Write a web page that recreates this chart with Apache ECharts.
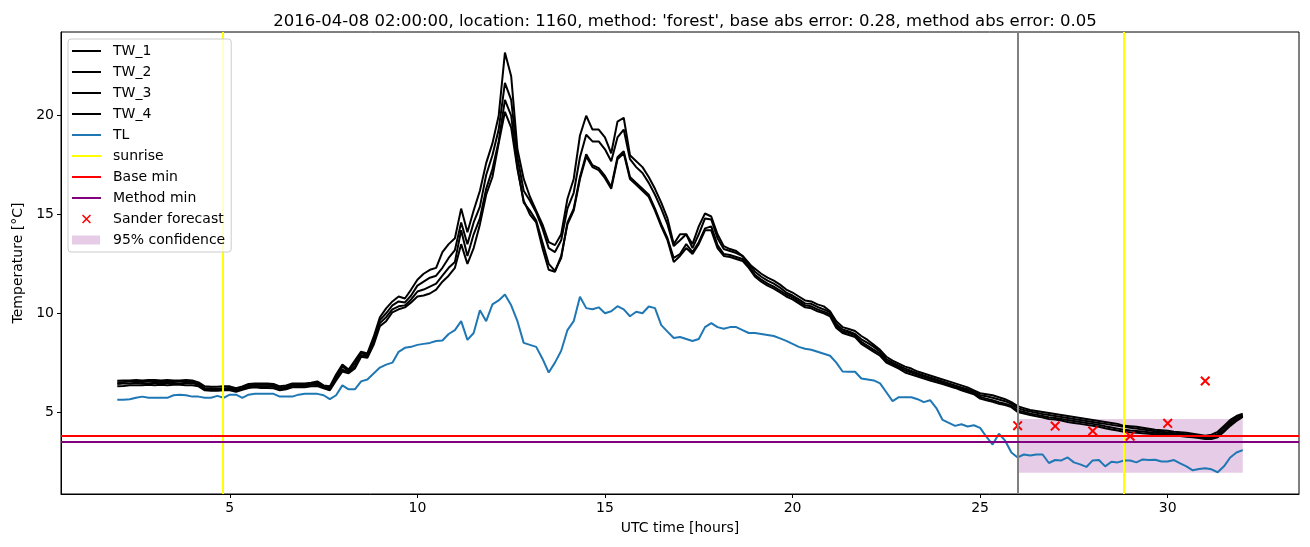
<!DOCTYPE html>
<html>
<head>
<meta charset="utf-8">
<script src="https://cdn.jsdelivr.net/npm/echarts@6/dist/echarts.min.js"></script>
<style>
  html, body { margin: 0; padding: 0; background: #fff; }
  #chart { width: 1310px; height: 547px; }
</style>
</head>
<body>
<div id="chart"></div>
<script>
// ---- data (10-minute grid from 02:00 to 32:00 UTC hours) ----
const hours = Array.from({ length: 181 }, (_, i) => 2 + i / 6);

const tw1 = [
  6.58,6.6,6.6,6.62,6.6,6.62,
  6.62,6.6,6.62,6.6,6.6,6.62,
  6.6,6.5,6.3,6.28,6.28,6.3,
  6.3,6.2,6.3,6.42,6.45,6.45,
  6.45,6.42,6.3,6.35,6.45,6.45,
  6.45,6.48,6.55,6.35,6.3,6.9,
  7.4,7.15,7.6,8.06,7.97,8.8,
  9.8,10.25,10.6,10.85,10.75,11.2,
  11.7,12.0,12.2,12.3,13.1,13.5,
  13.8,15.3,14.1,15.2,16.2,17.6,
  18.6,20.0,23.2,22.0,18.3,16.8,
  15.9,15.2,14.5,13.6,13.45,14.0,
  15.8,16.8,19.0,20.0,19.3,19.3,
  18.9,18.1,19.7,19.9,18.0,17.7,
  17.4,16.9,16.3,15.6,14.8,13.5,
  14.0,14.0,13.5,14.4,15.05,14.9,
  14.0,13.4,13.25,13.15,12.9,12.5,
  12.25,12.0,11.8,11.65,11.45,11.2,
  11.05,10.85,10.65,10.6,10.45,10.35,
  10.1,9.6,9.3,9.2,9.1,8.85,
  8.65,8.4,8.15,7.8,7.6,7.45,
  7.3,7.2,7.05,6.95,6.85,6.75,
  6.65,6.55,6.45,6.35,6.25,6.1,
  5.95,5.9,5.85,5.75,5.65,5.5,
  5.3,5.2,5.1,5.05,5.0,4.95,
  4.9,4.85,4.8,4.75,4.7,4.65,
  4.6,4.55,4.5,4.45,4.4,4.3,
  4.28,4.25,4.2,4.15,4.1,4.08,
  4.05,4.0,3.98,3.95,3.9,3.85,
  3.8,3.85,4.0,4.3,4.6,4.8,
  4.92
];

const tw2 = [
  6.5,6.52,6.55,6.55,6.52,6.55,
  6.55,6.52,6.55,6.52,6.55,6.55,
  6.52,6.42,6.2,6.2,6.18,6.2,
  6.22,6.12,6.22,6.35,6.38,6.38,
  6.38,6.35,6.22,6.28,6.38,6.38,
  6.38,6.42,6.48,6.3,6.22,6.8,
  7.3,7.08,7.45,7.98,7.9,8.6,
  9.65,10.0,10.4,10.6,10.55,10.9,
  11.4,11.6,11.8,11.9,12.3,12.8,
  13.2,14.6,13.5,14.6,15.4,17.0,
  18.0,19.3,21.66,20.8,17.9,16.2,
  15.7,15.1,14.3,13.3,13.1,13.7,
  15.3,16.1,17.9,19.04,18.7,18.7,
  18.3,17.7,18.9,19.3,17.8,17.4,
  17.1,16.6,16.0,15.3,14.5,13.4,
  13.7,14.0,13.3,14.0,14.8,14.75,
  13.8,13.25,13.15,13.05,12.9,12.55,
  12.1,11.85,11.65,11.5,11.3,11.05,
  10.9,10.7,10.5,10.48,10.32,10.2,
  10.05,9.45,9.18,9.08,8.95,8.68,
  8.5,8.3,8.05,7.68,7.5,7.35,
  7.2,7.08,6.95,6.85,6.75,6.65,
  6.55,6.45,6.35,6.25,6.15,6.02,
  5.85,5.8,5.72,5.63,5.55,5.42,
  5.2,5.1,5.02,4.96,4.9,4.85,
  4.8,4.75,4.7,4.65,4.6,4.55,
  4.5,4.45,4.4,4.35,4.3,4.25,
  4.2,4.16,4.12,4.08,4.03,4.0,
  3.96,3.92,3.9,3.88,3.83,3.78,
  3.73,3.75,3.88,4.2,4.5,4.72,
  4.85
];

const tw3 = [
  6.42,6.45,6.45,6.48,6.45,6.45,
  6.48,6.45,6.48,6.45,6.45,6.48,
  6.45,6.38,6.15,6.15,6.12,6.15,
  6.15,6.08,6.18,6.28,6.32,6.3,
  6.3,6.28,6.15,6.22,6.32,6.32,
  6.32,6.38,6.4,6.25,6.15,6.7,
  7.15,7.02,7.3,7.88,7.82,8.5,
  9.5,9.8,10.2,10.35,10.4,10.7,
  11.1,11.2,11.35,11.5,11.9,12.3,
  12.6,14.2,12.9,14.0,14.8,16.3,
  17.3,18.7,20.8,20.0,17.4,15.6,
  15.2,14.7,13.6,12.5,12.15,12.8,
  14.6,15.3,16.9,18.05,17.5,17.35,
  16.95,16.4,17.9,18.2,16.9,16.6,
  16.3,16.0,15.3,14.5,13.8,12.8,
  13.0,13.5,13.1,13.6,14.3,14.4,
  13.45,13.0,12.95,12.85,12.75,12.4,
  11.95,11.7,11.5,11.35,11.15,10.95,
  10.8,10.6,10.4,10.35,10.2,10.08,
  9.95,9.35,9.08,9.0,8.88,8.55,
  8.35,8.15,7.95,7.58,7.42,7.28,
  7.1,7.0,6.88,6.78,6.68,6.58,
  6.48,6.38,6.28,6.18,6.08,5.96,
  5.76,5.68,5.6,5.5,5.42,5.32,
  5.08,5.0,4.92,4.86,4.8,4.74,
  4.7,4.65,4.6,4.55,4.5,4.45,
  4.4,4.35,4.28,4.22,4.16,4.1,
  4.06,4.04,4.01,3.98,3.95,3.92,
  3.89,3.86,3.84,3.81,3.77,3.72,
  3.67,3.68,3.8,4.08,4.4,4.62,
  4.8
];

const tw4 = [
  6.3,6.32,6.35,6.35,6.35,6.38,
  6.35,6.38,6.35,6.38,6.38,6.35,
  6.35,6.3,6.1,6.08,6.08,6.1,
  6.1,6.03,6.12,6.22,6.25,6.22,
  6.22,6.2,6.1,6.15,6.25,6.25,
  6.25,6.3,6.32,6.2,6.1,6.6,
  7.05,6.96,7.2,7.8,7.75,8.4,
  9.35,9.6,10.05,10.2,10.3,10.55,
  10.85,10.9,11.0,11.2,11.6,11.9,
  12.3,13.5,12.5,13.3,14.5,16.0,
  16.9,18.6,20.2,19.4,17.3,15.7,
  15.0,14.6,13.3,12.2,12.1,12.9,
  14.5,15.2,16.8,17.94,17.4,17.25,
  16.84,16.3,17.8,18.1,16.8,16.5,
  16.2,15.9,15.2,14.4,13.7,12.6,
  12.9,13.3,13.0,13.5,14.2,14.2,
  13.3,12.9,12.85,12.75,12.65,12.3,
  11.85,11.6,11.4,11.25,11.05,10.85,
  10.7,10.5,10.3,10.25,10.1,10.0,
  9.85,9.25,9.0,8.9,8.8,8.45,
  8.25,8.05,7.85,7.5,7.35,7.2,
  7.0,6.9,6.8,6.7,6.6,6.5,
  6.42,6.32,6.22,6.1,6.0,5.9,
  5.68,5.6,5.52,5.42,5.35,5.25,
  5.0,4.92,4.85,4.78,4.72,4.65,
  4.62,4.57,4.5,4.45,4.4,4.35,
  4.3,4.25,4.18,4.12,4.06,4.0,
  3.97,3.95,3.92,3.9,3.88,3.85,
  3.83,3.8,3.78,3.75,3.72,3.68,
  3.63,3.63,3.72,4.0,4.3,4.55,
  4.75
];

const tl = [
  5.62,5.62,5.65,5.72,5.78,5.72,
  5.72,5.72,5.72,5.85,5.88,5.85,
  5.78,5.78,5.72,5.72,5.82,5.72,
  5.88,5.88,5.72,5.88,5.92,5.92,
  5.92,5.92,5.78,5.78,5.78,5.88,
  5.92,5.92,5.92,5.85,5.65,5.85,
  6.35,6.15,6.15,6.55,6.65,6.95,
  7.25,7.4,7.5,8.05,8.25,8.3,
  8.4,8.45,8.5,8.6,8.62,8.95,
  9.15,9.6,8.65,9.0,10.15,9.6,
  10.45,10.65,10.95,10.4,9.6,8.5,
  8.4,8.3,7.7,7.0,7.5,8.1,
  9.15,9.6,10.84,10.26,10.2,10.3,
  10.0,10.1,10.36,10.2,9.85,10.08,
  10.0,10.34,10.26,9.4,9.07,8.75,
  8.8,8.7,8.6,8.7,9.3,9.5,
  9.3,9.22,9.3,9.3,9.15,9.0,
  9.0,8.95,8.9,8.85,8.73,8.6,
  8.45,8.3,8.2,8.15,8.05,7.95,
  7.85,7.5,7.05,7.04,7.04,6.7,
  6.65,6.6,6.45,6.0,5.55,5.75,
  5.75,5.75,5.65,5.5,5.6,5.2,
  4.6,4.45,4.3,4.38,4.27,4.33,
  4.2,3.75,3.35,3.9,3.55,2.95,
  2.7,2.85,2.8,2.85,2.85,2.42,
  2.57,2.55,2.7,2.45,2.35,2.22,
  2.55,2.57,2.25,2.48,2.45,2.55,
  2.55,2.45,2.6,2.57,2.58,2.5,
  2.5,2.57,2.4,2.25,2.05,2.12,
  2.15,2.1,1.95,2.25,2.7,2.95,
  3.07
];

const sanderHours = [26, 27, 28, 29, 30, 31];
const sanderValues = [4.31, 4.29, 4.04, 3.78, 4.43, 6.57];
const sunriseHours = [4.8, 28.82];
const forecastStartHour = 26;
const baseMin = 3.79;
const methodMin = 3.49;
const bandHours = [26, 32];
const bandRange = [1.93, 4.65];
const xTicks = [5, 10, 15, 20, 25, 30];
const yTicks = [5, 10, 15, 20];
const titleText = "2016-04-08 02:00:00, location: 1160, method: 'forest', base abs error: 0.28, method abs error: 0.05";

// ---- chart ----
const FONT = 'DejaVu Sans';
const anchors = 'M0,0 L0.01,0 L0,0.01 Z M36,10 L35.99,10 L36,9.99 Z ';
const lineIcon = 'path://' + anchors + 'M0,4 L29,4 L29,6 L0,6 Z';
const xIcon = 'path://' + anchors + 'M10,1.6 L11.1,0.5 L19,8.4 L17.9,9.5 Z M17.9,0.5 L19,1.6 L11.1,9.5 L10,8.4 Z';
const bandIcon = 'path://' + anchors + 'M0,0.5 L28,0.5 L28,9.5 L0,9.5 Z';
const xSymbol = 'path://M0,1.4 L1.4,0 L10,8.6 L8.6,10 Z M8.6,0 L10,1.4 L1.4,10 L0,8.6 Z';

function lineSeries(name, values, color) {
  return {
    name, type: 'line', data: hours.map((h, i) => [h, values[i]]),
    showSymbol: false, symbol: 'none', smooth: false,
    lineStyle: { color, width: 2 }, itemStyle: { color },
    emphasis: { disabled: true }, z: 2
  };
}
function markLineSeries(name, color, lines, z) {
  return {
    name, type: 'line', data: [], symbol: 'none',
    itemStyle: { color }, lineStyle: { color, width: 2 }, z: z || 3,
    markLine: {
      silent: true, symbol: ['none', 'none'], label: { show: false },
      lineStyle: { color, width: 2, type: 'solid' },
      emphasis: { disabled: true },
      data: lines
    }
  };
}

const chart = echarts.init(document.getElementById('chart'), null, { renderer: 'canvas' });
chart.setOption({
  animation: false,
  backgroundColor: '#ffffff',
  textStyle: { fontFamily: FONT },
  title: {
    text: titleText, left: 680, textAlign: 'center', top: 8,
    textStyle: { fontFamily: FONT, fontSize: 16.5, fontWeight: 'normal', color: '#000' }
  },
  grid: { left: 61, right: 11, top: 32, bottom: 53, show: true, borderColor: '#000', borderWidth: 1, containLabel: false },
  xAxis: {
    type: 'value', min: 0.5, max: 33.5,
    name: 'UTC time [hours]', nameLocation: 'middle', nameGap: 27,
    nameTextStyle: { fontFamily: FONT, fontSize: 14, color: '#000' },
    axisLine: { show: true, lineStyle: { color: '#000', width: 1 } },
    axisTick: { show: true, inside: false, length: 4, lineStyle: { color: '#000' }, customValues: xTicks },
    axisLabel: { show: true, margin: 7, fontFamily: FONT, fontSize: 14, color: '#000', customValues: xTicks },
    splitLine: { show: false }
  },
  yAxis: {
    type: 'value', min: 0.85, max: 24.24,
    name: 'Temperature [°C]', nameLocation: 'middle', nameGap: 36,
    nameTextStyle: { fontFamily: FONT, fontSize: 14, color: '#000' },
    axisLine: { show: true, lineStyle: { color: '#000', width: 1 } },
    axisTick: { show: true, inside: false, length: 4, lineStyle: { color: '#000' }, customValues: yTicks },
    axisLabel: { show: true, margin: 7, fontFamily: FONT, fontSize: 14, color: '#000', customValues: yTicks },
    splitLine: { show: false }
  },
  legend: {
    orient: 'vertical', left: 68, top: 39, selectedMode: false,
    itemWidth: 36, itemHeight: 10, itemGap: 5, padding: [4, 6, 4, 4],
    backgroundColor: 'rgba(255,255,255,0.8)', borderColor: '#cccccc', borderWidth: 1, borderRadius: 3,
    textStyle: { fontFamily: FONT, fontSize: 14, color: '#000', lineHeight: 16 },
    z: 10,
    data: [
      { name: 'TW_1', icon: lineIcon },
      { name: 'TW_2', icon: lineIcon },
      { name: 'TW_3', icon: lineIcon },
      { name: 'TW_4', icon: lineIcon },
      { name: 'TL', icon: lineIcon },
      { name: 'sunrise', icon: lineIcon },
      { name: 'Base min', icon: lineIcon },
      { name: 'Method min', icon: lineIcon },
      { name: 'Sander forecast', icon: xIcon },
      { name: '95% confidence', icon: bandIcon }
    ]
  },
  series: [
    {
      name: '95% confidence', type: 'line', data: [], symbol: 'none', z: 1,
      itemStyle: { color: 'rgba(128,0,128,0.2)' },
      markArea: {
        silent: true,
        itemStyle: { color: 'rgba(128,0,128,0.2)' },
        emphasis: { disabled: true },
        data: [[{ xAxis: bandHours[0], yAxis: bandRange[0] }, { xAxis: bandHours[1], yAxis: bandRange[1] }]]
      }
    },
    lineSeries('TW_1', tw1, '#000000'),
    lineSeries('TW_2', tw2, '#000000'),
    lineSeries('TW_3', tw3, '#000000'),
    lineSeries('TW_4', tw4, '#000000'),
    lineSeries('TL', tl, '#1f77b4'),
    markLineSeries('forecast start', '#808080', [{ xAxis: forecastStartHour }], 3),
    markLineSeries('sunrise', '#ffff00', sunriseHours.map(h => ({ xAxis: h })), 3),
    markLineSeries('Base min', '#ff0000', [{ yAxis: baseMin }], 3),
    markLineSeries('Method min', '#800080', [{ yAxis: methodMin }], 3),
    {
      name: 'Sander forecast', type: 'scatter', symbol: xSymbol, symbolSize: 10,
      itemStyle: { color: '#ff0000', opacity: 1 }, emphasis: { disabled: true }, z: 4,
      data: sanderHours.map((h, i) => [h, sanderValues[i]])
    }
  ]
});
</script>
</body>
</html>
